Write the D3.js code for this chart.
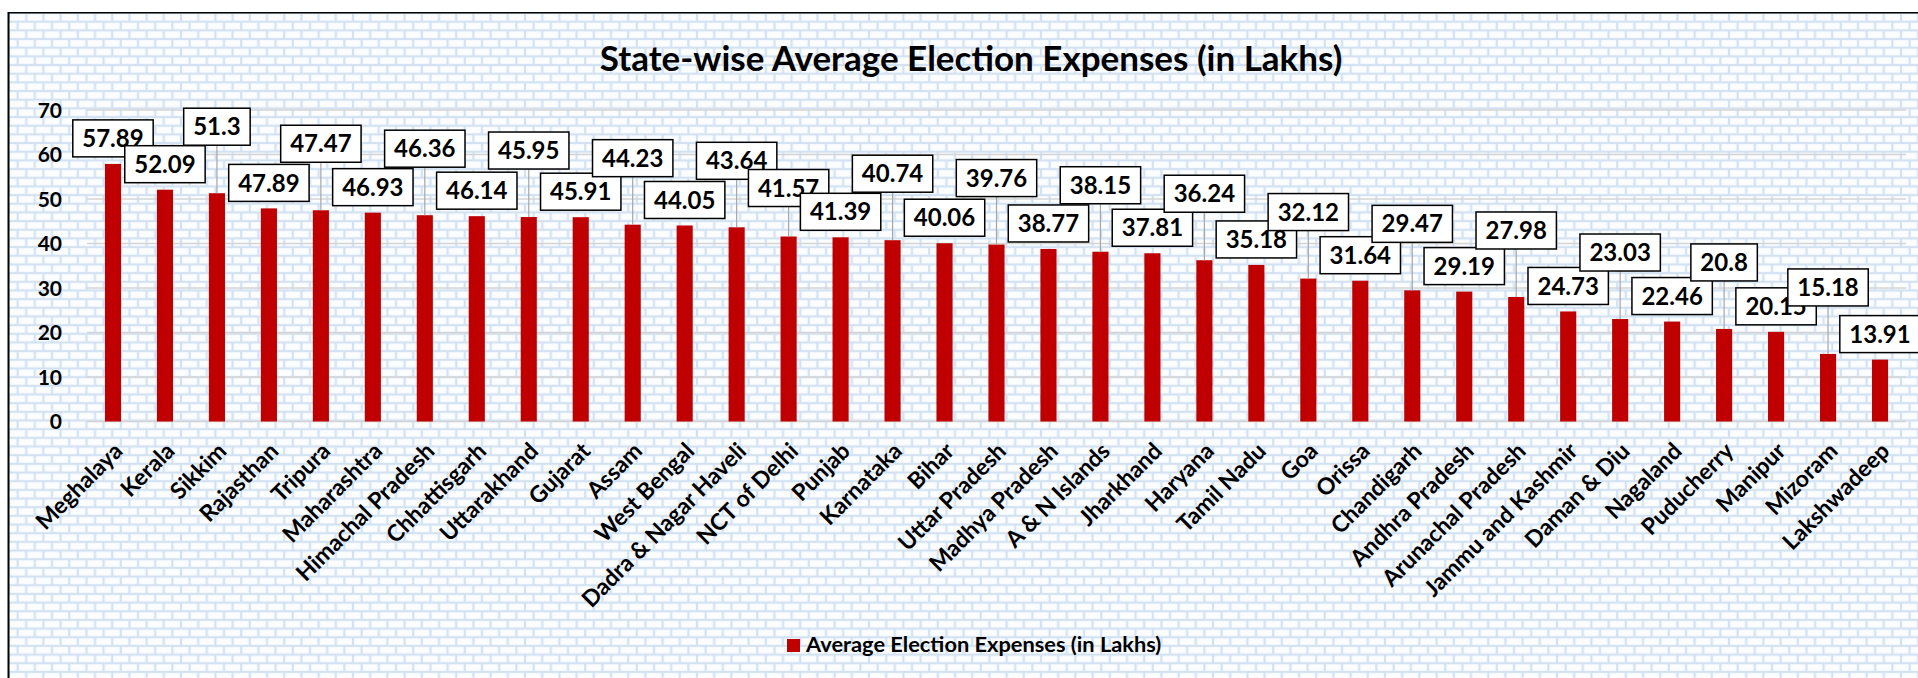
<!DOCTYPE html>
<html>
<head>
<meta charset="utf-8">
<script src="https://cdn.jsdelivr.net/npm/d3@7"></script>
<style>
  html, body { margin: 0; padding: 0; background: #ffffff; }
  svg { display: block; }
  text { font-family: Lato, "Open Sans", sans-serif; font-weight: 700; fill: #000; }
</style>
</head>
<body>
<svg id="chart" width="1918" height="678"></svg>
<script>
// ---- data ----
const categories = ["Meghalaya","Kerala","Sikkim","Rajasthan","Tripura","Maharashtra","Himachal Pradesh","Chhattisgarh","Uttarakhand","Gujarat","Assam","West Bengal","Dadra & Nagar Haveli","NCT of Delhi","Punjab","Karnataka","Bihar","Uttar Pradesh","Madhya Pradesh","A & N Islands","Jharkhand","Haryana","Tamil Nadu","Goa","Orissa","Chandigarh","Andhra Pradesh","Arunachal Pradesh","Jammu and Kashmir","Daman & Diu","Nagaland","Puducherry","Manipur","Mizoram","Lakshwadeep"];
const values = [57.89,52.09,51.3,47.89,47.47,46.93,46.36,46.14,45.95,45.91,44.23,44.05,43.64,41.57,41.39,40.74,40.06,39.76,38.77,38.15,37.81,36.24,35.18,32.12,31.64,29.47,29.19,27.98,24.73,23.03,22.46,20.8,20.15,15.18,13.91];
const yTicks = [0,10,20,30,40,50,60,70];
const seriesName = "Average Election Expenses (in Lakhs)";
const titleText = "State-wise Average Election Expenses (in Lakhs)";
// label placement tiers (layout, Excel-like staggering of data labels)
const labelTier = ["low","low","high","low","high","low","high","low","high","low","high","low","high","mid","low","high","low","high","low","high","low","high","low","high","low","high","low","high","low","high","low","high","low","high","low"];

// ---- layout ----
const W = 1918, H = 678;
const plot = { left: 87, right: 1906, top: 110, bottom: 421.5 };

const svg = d3.select("#chart");
const defs = svg.append("defs");

// brick background pattern
const bw = 17.2, bh = 8.67;
const pat = defs.append("pattern")
  .attr("id","bricks").attr("patternUnits","userSpaceOnUse")
  .attr("x", 9).attr("y", 13)
  .attr("width", bw*2).attr("height", bh*2);
pat.append("rect").attr("width", bw*2).attr("height", bh*2).attr("fill","#d3e2f3");
[[0,0],[bw,0],[-bw/2,bh],[bw/2,bh],[bw*1.5,bh]].forEach(([x,y])=>{
  pat.append("rect").attr("x", x+1.1).attr("y", y+1.1)
    .attr("width", bw-2.2).attr("height", bh-2.2).attr("fill","#fbfdff");
});

svg.append("rect").attr("width",W).attr("height",H).attr("fill","#ffffff");
svg.append("rect").attr("x",9).attr("y",13).attr("width",W-9).attr("height",H-13).attr("fill","url(#bricks)");
// chart border
svg.append("line").attr("x1",8).attr("x2",W).attr("y1",12.75).attr("y2",12.75).attr("stroke","#000").attr("stroke-width",1.5);
svg.append("line").attr("x1",8.5).attr("x2",8.5).attr("y1",12).attr("y2",H).attr("stroke","#000").attr("stroke-width",2);

// scales
const x = d3.scaleBand().domain(categories).range([plot.left, plot.right]).paddingInner(0.69).paddingOuter(0.345);
const y = d3.scaleLinear().domain([0,70]).range([plot.bottom, plot.top]);

// gridlines
svg.append("g").selectAll("line").data(yTicks).join("line")
  .attr("x1", plot.left).attr("x2", plot.right)
  .attr("y1", d=>y(d)).attr("y2", d=>y(d))
  .attr("stroke","#d4d4d4").attr("stroke-width",1.5);

// y axis labels
const yAxis = d3.axisLeft(y).tickValues(yTicks).tickSize(0).tickPadding(0).tickFormat(d3.format("d"));
const gy = svg.append("g").attr("transform",`translate(62,0)`).call(yAxis);
gy.select(".domain").remove();
gy.selectAll("text").style("font-family","Lato, sans-serif").style("font-weight","700")
  .style("font-size","21px").attr("fill","#000").attr("dy","0.34em");

// bars
svg.append("g").selectAll("rect").data(values).join("rect")
  .attr("x",(d,i)=>x(categories[i]))
  .attr("width",x.bandwidth())
  .attr("y",d=>y(d))
  .attr("height",d=>y(0)-y(d))
  .attr("fill","#c00000");

// x axis labels
const xAxis = d3.axisBottom(x).tickSize(0).tickPadding(0);
const gx = svg.append("g").attr("transform",`translate(0,${plot.bottom})`).call(xAxis);
gx.select(".domain").remove();
gx.selectAll(".tick text")
  .style("font-family","Lato, sans-serif").style("font-weight","700").style("font-size","23px")
  .attr("fill","#000")
  .attr("text-anchor","end")
  .attr("dy",0).attr("y",0)
  .attr("transform","translate(11,31) rotate(-45)");

// data labels
const lbl = svg.append("g");
values.forEach((v,i)=>{
  const cx = x(categories[i]) + x.bandwidth()/2;
  const top = y(v);
  const tier = labelTier[i];
  const boxH = 37;
  const bottom = tier==="high" ? top-48 : tier==="mid" ? top-30 : top-7;
  const g = lbl.append("g");
  const t = g.append("text").attr("x",cx).attr("y",bottom-boxH/2)
    .attr("text-anchor","middle").attr("dy","0.36em")
    .style("font-size","24px").text(v);
  const tw = t.node().getComputedTextLength();
  const boxW = tw + 19;
  if (tier!=="low") {
    g.insert("line","text").attr("x1",cx).attr("x2",cx).attr("y1",bottom).attr("y2",top)
      .attr("stroke","#a6a6a6").attr("stroke-width",1.2);
  }
  g.insert("rect","text").attr("x",cx-boxW/2).attr("y",bottom-boxH).attr("width",boxW).attr("height",boxH)
    .attr("fill","#ffffff").attr("stroke","#000").attr("stroke-width",1.5);
});

// title
svg.append("text").attr("x",971).attr("y",71).attr("text-anchor","middle")
  .style("font-size","35px").text(titleText);

// legend
const lg = svg.append("g");
lg.append("rect").attr("x",787).attr("y",639).attr("width",13).attr("height",13).attr("fill","#c00000");
lg.append("text").attr("x",806).attr("y",652).style("font-size","21.8px").text(seriesName);
</script>
</body>
</html>
